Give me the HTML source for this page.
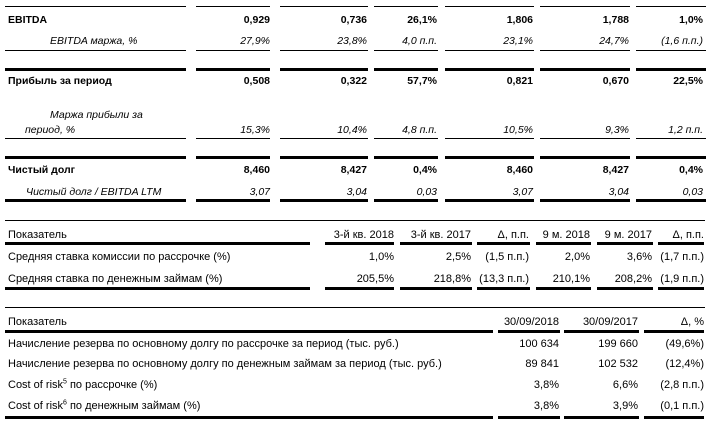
<!DOCTYPE html>
<html><head><meta charset="utf-8"><style>
body{margin:0;width:708px;height:423px;background:#fff;position:relative;overflow:hidden;font-family:"Liberation Sans",sans-serif;color:#000}
.l{position:absolute;background:#000;height:1px}
.k{position:absolute;background:#000;height:3px}
.t{position:absolute;font-size:10.5px;line-height:12px;white-space:nowrap}
.s{font-size:11px}
.r{text-align:right}
.b{font-weight:bold}
.i{font-style:italic}
</style></head><body>
<div class="l" style="top:6px;left:5px;width:181px"></div><div class="l" style="top:6px;left:196px;width:74px"></div><div class="l" style="top:6px;left:280px;width:88px"></div><div class="l" style="top:6px;left:374px;width:64px"></div><div class="l" style="top:6px;left:445px;width:89px"></div><div class="l" style="top:6px;left:540px;width:90px"></div><div class="l" style="top:6px;left:636px;width:70px"></div>
<div class="l" style="top:50px;left:5px;width:181px"></div><div class="l" style="top:50px;left:196px;width:74px"></div><div class="l" style="top:50px;left:280px;width:88px"></div><div class="l" style="top:50px;left:374px;width:64px"></div><div class="l" style="top:50px;left:445px;width:89px"></div><div class="l" style="top:50px;left:540px;width:90px"></div><div class="l" style="top:50px;left:636px;width:70px"></div>
<div class="k" style="top:68px;left:5px;width:181px"></div><div class="k" style="top:68px;left:196px;width:74px"></div><div class="k" style="top:68px;left:280px;width:88px"></div><div class="k" style="top:68px;left:374px;width:64px"></div><div class="k" style="top:68px;left:445px;width:89px"></div><div class="k" style="top:68px;left:540px;width:90px"></div><div class="k" style="top:68px;left:636px;width:70px"></div>
<div class="l" style="top:138px;left:5px;width:181px"></div><div class="l" style="top:138px;left:196px;width:74px"></div><div class="l" style="top:138px;left:280px;width:88px"></div><div class="l" style="top:138px;left:374px;width:64px"></div><div class="l" style="top:138px;left:445px;width:89px"></div><div class="l" style="top:138px;left:540px;width:90px"></div><div class="l" style="top:138px;left:636px;width:70px"></div>
<div class="k" style="top:156px;left:5px;width:181px"></div><div class="k" style="top:156px;left:196px;width:74px"></div><div class="k" style="top:156px;left:280px;width:88px"></div><div class="k" style="top:156px;left:374px;width:64px"></div><div class="k" style="top:156px;left:445px;width:89px"></div><div class="k" style="top:156px;left:540px;width:90px"></div><div class="k" style="top:156px;left:636px;width:70px"></div>
<div class="k" style="top:199px;left:5px;width:181px"></div><div class="k" style="top:199px;left:196px;width:74px"></div><div class="k" style="top:199px;left:280px;width:88px"></div><div class="k" style="top:199px;left:374px;width:64px"></div><div class="k" style="top:199px;left:445px;width:89px"></div><div class="k" style="top:199px;left:540px;width:90px"></div><div class="k" style="top:199px;left:636px;width:70px"></div>
<div class="t b" style="top:14px;left:8px">EBITDA</div>
<div class="t i" style="top:35px;left:50px">EBITDA маржа, %</div>
<div class="t b" style="top:75px;left:8px">Прибыль за период</div>
<div class="t i" style="top:109px;left:50px">Маржа прибыли за</div>
<div class="t i" style="top:124px;left:25px">период, %</div>
<div class="t b" style="top:164px;left:8px">Чистый долг</div>
<div class="t i" style="top:186px;left:26px">Чистый долг / EBITDA LTM</div>
<div class="t r b" style="top:14px;left:200px;width:70px">0,929</div><div class="t r b" style="top:14px;left:290px;width:77px">0,736</div><div class="t r b" style="top:14px;left:370px;width:67px">26,1%</div><div class="t r b" style="top:14px;left:450px;width:83px">1,806</div><div class="t r b" style="top:14px;left:545px;width:84px">1,788</div><div class="t r b" style="top:14px;left:640px;width:63px">1,0%</div>
<div class="t r i" style="top:35px;left:200px;width:70px">27,9%</div><div class="t r i" style="top:35px;left:290px;width:77px">23,8%</div><div class="t r i" style="top:35px;left:370px;width:67px">4,0 п.п.</div><div class="t r i" style="top:35px;left:450px;width:83px">23,1%</div><div class="t r i" style="top:35px;left:545px;width:84px">24,7%</div><div class="t r i" style="top:35px;left:630px;width:73px">(1,6 п.п.)</div>
<div class="t r b" style="top:75px;left:200px;width:70px">0,508</div><div class="t r b" style="top:75px;left:290px;width:77px">0,322</div><div class="t r b" style="top:75px;left:370px;width:67px">57,7%</div><div class="t r b" style="top:75px;left:450px;width:83px">0,821</div><div class="t r b" style="top:75px;left:545px;width:84px">0,670</div><div class="t r b" style="top:75px;left:640px;width:63px">22,5%</div>
<div class="t r i" style="top:124px;left:200px;width:70px">15,3%</div><div class="t r i" style="top:124px;left:290px;width:77px">10,4%</div><div class="t r i" style="top:124px;left:370px;width:67px">4,8 п.п.</div><div class="t r i" style="top:124px;left:450px;width:83px">10,5%</div><div class="t r i" style="top:124px;left:545px;width:84px">9,3%</div><div class="t r i" style="top:124px;left:640px;width:63px">1,2 п.п.</div>
<div class="t r b" style="top:164px;left:200px;width:70px">8,460</div><div class="t r b" style="top:164px;left:290px;width:77px">8,427</div><div class="t r b" style="top:164px;left:370px;width:67px">0,4%</div><div class="t r b" style="top:164px;left:450px;width:83px">8,460</div><div class="t r b" style="top:164px;left:545px;width:84px">8,427</div><div class="t r b" style="top:164px;left:640px;width:63px">0,4%</div>
<div class="t r i" style="top:186px;left:200px;width:70px">3,07</div><div class="t r i" style="top:186px;left:290px;width:77px">3,04</div><div class="t r i" style="top:186px;left:370px;width:67px">0,03</div><div class="t r i" style="top:186px;left:450px;width:83px">3,07</div><div class="t r i" style="top:186px;left:545px;width:84px">3,04</div><div class="t r i" style="top:186px;left:640px;width:63px">0,03</div>
<div class="l" style="top:220px;left:5px;width:700px"></div>
<div class="k" style="top:242px;left:5px;width:305px"></div><div class="k" style="top:242px;left:325px;width:69px"></div><div class="k" style="top:242px;left:400px;width:72px"></div><div class="k" style="top:242px;left:477px;width:53px"></div><div class="k" style="top:242px;left:536px;width:55px"></div><div class="k" style="top:242px;left:597px;width:56px"></div><div class="k" style="top:242px;left:658px;width:46px"></div>
<div class="k" style="top:287px;left:5px;width:305px"></div><div class="k" style="top:287px;left:325px;width:69px"></div><div class="k" style="top:287px;left:400px;width:72px"></div><div class="k" style="top:287px;left:477px;width:53px"></div><div class="k" style="top:287px;left:536px;width:55px"></div><div class="k" style="top:287px;left:597px;width:56px"></div><div class="k" style="top:287px;left:658px;width:46px"></div>
<div class="t s" style="top:229px;left:8px">Показатель</div>
<div class="t s" style="top:251px;left:8px">Средняя ставка комиссии по рассрочке (%)</div>
<div class="t s" style="top:273px;left:8px">Средняя ставка по денежным займам (%)</div>
<div class="t s r" style="top:229px;left:320px;width:74px">3-й кв. 2018</div><div class="t s r" style="top:229px;left:400px;width:71px">3-й кв. 2017</div><div class="t s r" style="top:229px;left:477px;width:52px">Δ, п.п.</div><div class="t s r" style="top:229px;left:530px;width:60px">9 м. 2018</div><div class="t s r" style="top:229px;left:590px;width:62px">9 м. 2017</div><div class="t s r" style="top:229px;left:655px;width:49px">Δ, п.п.</div>
<div class="t s r" style="top:251px;left:320px;width:74px">1,0%</div><div class="t s r" style="top:251px;left:400px;width:71px">2,5%</div><div class="t s r" style="top:251px;left:470px;width:59px">(1,5 п.п.)</div><div class="t s r" style="top:251px;left:530px;width:60px">2,0%</div><div class="t s r" style="top:251px;left:590px;width:62px">3,6%</div><div class="t s r" style="top:251px;left:650px;width:54px">(1,7 п.п.)</div>
<div class="t s r" style="top:273px;left:320px;width:74px">205,5%</div><div class="t s r" style="top:273px;left:400px;width:71px">218,8%</div><div class="t s r" style="top:273px;left:460px;width:69px">(13,3 п.п.)</div><div class="t s r" style="top:273px;left:530px;width:60px">210,1%</div><div class="t s r" style="top:273px;left:590px;width:62px">208,2%</div><div class="t s r" style="top:273px;left:650px;width:54px">(1,9 п.п.)</div>
<div class="l" style="top:307px;left:5px;width:700px"></div>
<div class="k" style="top:330px;left:5px;width:488px"></div><div class="k" style="top:330px;left:498px;width:62px"></div><div class="k" style="top:330px;left:564px;width:75px"></div><div class="k" style="top:330px;left:644px;width:60px"></div>
<div class="k" style="top:416px;left:5px;width:488px"></div><div class="k" style="top:416px;left:498px;width:62px"></div><div class="k" style="top:416px;left:564px;width:75px"></div><div class="k" style="top:416px;left:644px;width:60px"></div>
<div class="t s" style="top:316px;left:8px">Показатель</div>
<div class="t s" style="top:338px;left:8px">Начисление резерва по основному долгу по рассрочке за период (тыс. руб.)</div>
<div class="t s" style="top:358px;left:8px">Начисление резерва по основному долгу по денежным займам за период (тыс. руб.)</div>
<div class="t s" style="top:379px;left:8px">Cost of risk<sup style="font-size:7px;line-height:0">5</sup> по рассрочке (%)</div>
<div class="t s" style="top:400px;left:8px">Cost of risk<sup style="font-size:7px;line-height:0">6</sup> по денежным займам (%)</div>
<div class="t s r" style="top:316px;left:490px;width:69px">30/09/2018</div><div class="t s r" style="top:316px;left:560px;width:78px">30/09/2017</div><div class="t s r" style="top:316px;left:640px;width:64px">Δ, %</div>
<div class="t s r" style="top:338px;left:490px;width:69px">100 634</div><div class="t s r" style="top:338px;left:560px;width:78px">199 660</div><div class="t s r" style="top:338px;left:640px;width:64px">(49,6%)</div>
<div class="t s r" style="top:358px;left:490px;width:69px">89 841</div><div class="t s r" style="top:358px;left:560px;width:78px">102 532</div><div class="t s r" style="top:358px;left:640px;width:64px">(12,4%)</div>
<div class="t s r" style="top:379px;left:490px;width:69px">3,8%</div><div class="t s r" style="top:379px;left:560px;width:78px">6,6%</div><div class="t s r" style="top:379px;left:640px;width:64px">(2,8 п.п.)</div>
<div class="t s r" style="top:400px;left:490px;width:69px">3,8%</div><div class="t s r" style="top:400px;left:560px;width:78px">3,9%</div><div class="t s r" style="top:400px;left:640px;width:64px">(0,1 п.п.)</div>
</body></html>
